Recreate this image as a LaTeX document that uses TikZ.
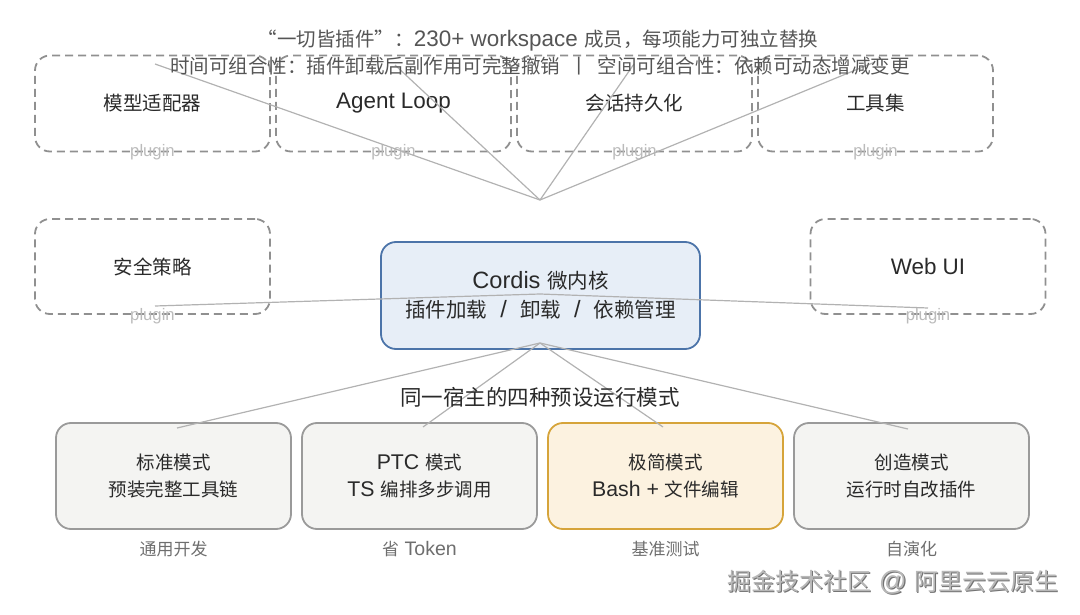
\documentclass[tikz,border=0pt]{standalone}
\usepackage{fontspec}
\setmainfont{Noto Sans CJK SC}
\newfontfamily\lat{Liberation Sans}[Scale=1.15]
\definecolor{dashgray}{HTML}{909090}
\definecolor{linkgray}{HTML}{B2B2B2}
\definecolor{txtdark}{HTML}{2A2A2A}
\definecolor{titlegray}{HTML}{555555}
\definecolor{plugingray}{HTML}{BBBBBB}
\definecolor{subgray}{HTML}{6E6E6E}
\definecolor{modefill}{HTML}{F4F4F2}
\definecolor{modedraw}{HTML}{9A9A9A}
\definecolor{minfill}{HTML}{FCF2E0}
\definecolor{mindraw}{HTML}{D6A43A}
\definecolor{corefill}{HTML}{E7EEF7}
\definecolor{coredraw}{HTML}{4C74A9}
\tikzset{
  plugbox/.style={draw=dashgray, line width=1.8pt, dash pattern=on 8pt off 5pt, rounded corners=15pt,
    minimum width=235pt, minimum height=96pt, inner sep=0pt, font=\fontsize{19.5}{23}\selectfont, text=txtdark},
  pluglabel/.style={font=\lat\fontsize{14.5}{17}\selectfont, text=plugingray, inner sep=0pt},
  modebox/.style={draw=modedraw, fill=modefill, line width=1.8pt, rounded corners=15pt,
    minimum width=235pt, minimum height=106pt, inner sep=0pt},
  modetext/.style={align=center, font=\fontsize{18.5}{27}\selectfont, text=txtdark},
  sublabel/.style={font=\fontsize{17}{20}\selectfont, text=subgray, inner sep=0pt},
  link/.style={draw=linkgray, line width=1.2pt},
}
\begin{document}
\begin{tikzpicture}[x=1pt, y=-1pt]
\useasboundingbox (0,0) rectangle (1080,615);
% top plugin boxes
\node[plugbox] (mod) at (152.5,103.5) {模型适配器};
\node[plugbox] (loop) at (393.5,103.5) {{\lat Agent Loop}};
\node[plugbox] (sess) at (634.5,103.5) {会话持久化};
\node[plugbox] (tools) at (875.5,103.5) {工具集};
\node[pluglabel] (modp) at (152.5,152) {plugin};
\node[pluglabel] (loopp) at (393.5,152) {plugin};
\node[pluglabel] (sessp) at (634.5,152) {plugin};
\node[pluglabel] (toolsp) at (875.5,152) {plugin};
% middle plugin boxes
\node[plugbox, minimum height=95pt] (sec) at (152.5,266.5) {安全策略};
\node[plugbox, minimum height=95pt] (web) at (928,266.5) {{\lat Web UI}};
\node[pluglabel] (secp) at (152.5,316) {plugin};
\node[pluglabel] (webp) at (928,316) {plugin};
% core
\node[draw=coredraw, fill=corefill, line width=1.8pt, rounded corners=15pt, minimum width=319pt,
  minimum height=107pt, inner sep=0pt] (core) at (540.5,295.5) {};
% mode boxes
\node[modebox] (std) at (173.5,476) {};
\node[modebox] (ptc) at (419.5,476) {};
\node[modebox, fill=minfill, draw=mindraw] (mini) at (665.5,476) {};
\node[modebox] (cre) at (911.5,476) {};
% connector ends
\coordinate (hubT) at (540,200);
\coordinate (t1) at (155,64);
\coordinate (t2) at (395,65);
\coordinate (t3) at (634,64);
\coordinate (t4) at (875,62);
\coordinate (hubM) at (540,294);
\coordinate (m1) at (155,306);
\coordinate (m2) at (928,308);
\coordinate (hubB) at (540,343);
\coordinate (b1) at (177,428);
\coordinate (b2) at (423,427);
\coordinate (b3) at (663,427);
\coordinate (b4) at (908,429);
\draw[link] (t1) -- (hubT);
\draw[link] (t2) -- (hubT);
\draw[link] (t3) -- (hubT);
\draw[link] (t4) -- (hubT);
\draw[link] (m1) -- (hubM);
\draw[link] (hubM) -- (m2);
\draw[link] (b1) -- (hubB);
\draw[link] (b2) -- (hubB);
\draw[link] (b3) -- (hubB);
\draw[link] (b4) -- (hubB);
% core text
\node[align=center, font=\fontsize{20.5}{29}\selectfont, text=txtdark] (coretxt) at (core.center)
  {{\lat Cordis }微内核\\插件加载{\lat\ \ /\ \ }卸载{\lat\ \ /\ \ }依赖管理};
% mode texts
\node[modetext] (stdt) at (std.center) {标准模式\\预装完整工具链};
\node[modetext] (ptct) at (ptc.center) {{\lat PTC }模式\\{\lat TS }编排多步调用};
\node[modetext] (minit) at (mini.center) {极简模式\\{\lat Bash + }文件编辑};
\node[modetext] (cret) at (cre.center) {创造模式\\运行时自改插件};
\node[sublabel] (stds) at (173.5,549) {通用开发};
\node[sublabel] (ptcs) at (419.5,549) {省{\lat\ Token}};
\node[sublabel] (minis) at (665.5,549) {基准测试};
\node[sublabel] (cres) at (911.5,549) {自演化};
% headings
\node[font=\fontsize{21.5}{25}\selectfont, text=txtdark, inner sep=0pt] (modes) at (540,397) {同一宿主的四种预设运行模式};
\node[font=\fontsize{19.5}{22}\selectfont, text=titlegray, inner sep=0pt] (title1) at (538,41)
  {“一切皆插件”：{\lat 230+ workspace }成员，每项能力可独立替换};
\node[font=\fontsize{19.5}{22}\selectfont, text=titlegray, inner sep=0pt] (title2) at (540,66)
  {时间可组合性：插件卸载后副作用可完整撤销\hspace{9pt}丨\hspace{9pt}空间可组合性：依赖可动态增减变更};
% watermark
\node[font=\fontsize{24}{28}\selectfont, text=black!55, inner sep=0pt] (wmshadow) at (894.1,583.1) {掘金技术社区{\lat\ @ }阿里云云原生};
\node[font=\fontsize{24}{28}\selectfont, text=black!28, inner sep=0pt] (wm) at (893,582) {掘金技术社区{\lat\ @ }阿里云云原生};
\end{tikzpicture}
\end{document}
